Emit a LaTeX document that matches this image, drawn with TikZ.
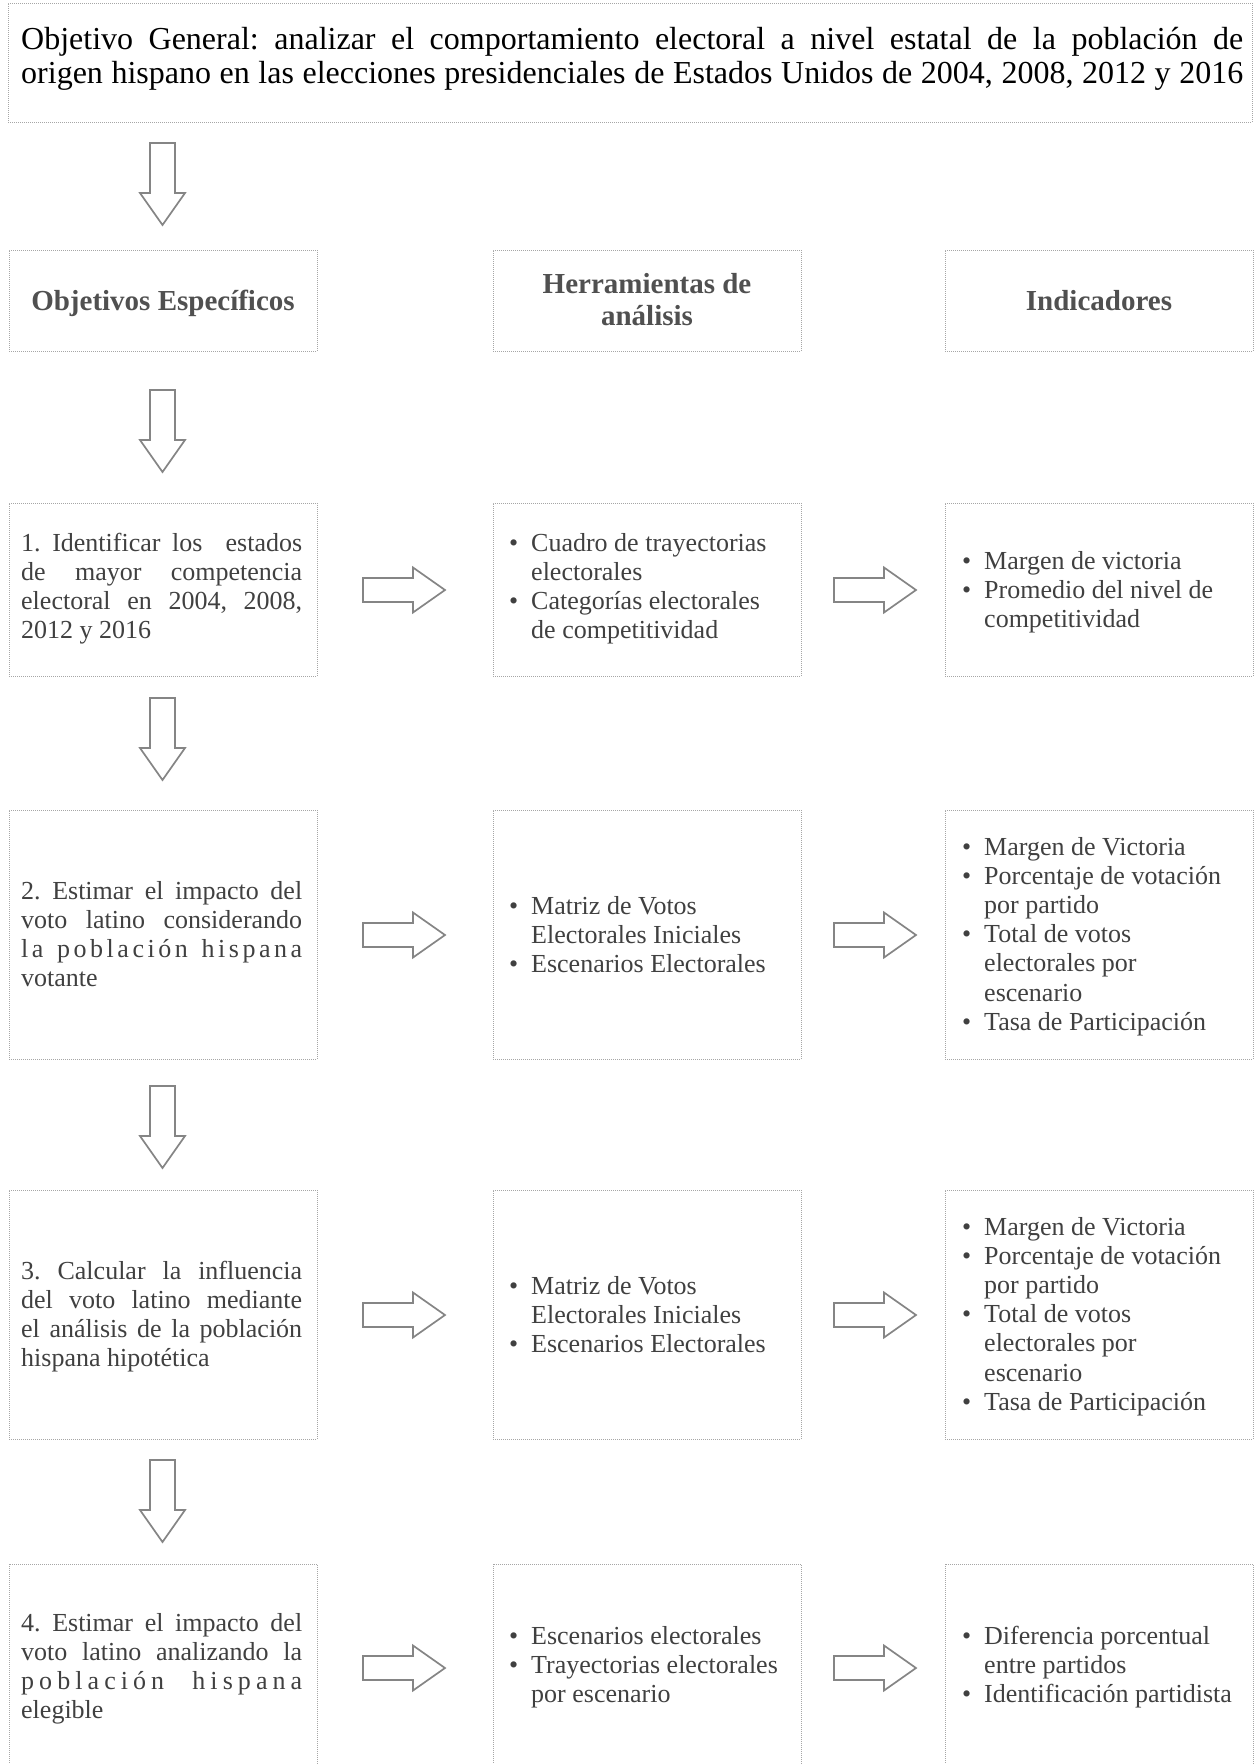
\documentclass[tikz,border=0pt]{standalone}
\usepackage{fontspec}
\setmainfont{Liberation Serif}
\frenchspacing
\definecolor{txt}{HTML}{404040}
\definecolor{hdr}{HTML}{505050}
\definecolor{bord}{HTML}{A6A6A6}
\definecolor{arrc}{HTML}{858585}
\tikzset{
  box/.style={draw=bord, line width=1pt, dash pattern=on 1pt off 1pt, anchor=north west, inner sep=0pt, outer sep=0pt},
  body/.style={anchor=base west, inner sep=0pt, text=txt, font=\fontsize{26}{29.2}\selectfont},
  head/.style={anchor=base, inner sep=0pt, text=hdr, font=\fontsize{29}{32.5}\selectfont\bfseries},
  blockarr/.style={draw=arrc, line width=1.7pt, fill=white, line join=miter},
}
\newcommand\bul{\leavevmode\llap{•\hspace{13pt}}}
\newcommand\DArr[3]{%
  \coordinate (#1) at (#2,#3);
  \draw[blockarr] (#2-12.5,#3) -- (#2+12.5,#3) -- (#2+12.5,#3+50) -- (#2+22.5,#3+50)
     -- (#2,#3+82) -- (#2-22.5,#3+50) -- (#2-12.5,#3+50) -- cycle;}
\newcommand\RArr[3]{%
  \coordinate (#1) at (#2,#3);
  \draw[blockarr] (#2,#3-12) -- (#2+50,#3-12) -- (#2+50,#3-22.5) -- (#2+82,#3)
     -- (#2+50,#3+22.5) -- (#2+50,#3+12) -- (#2,#3+12) -- cycle;}
\begin{document}
\begin{tikzpicture}[x=1pt,y=-1pt]
\useasboundingbox (0,0) rectangle (1258,1764);
\clip (0,0) rectangle (1258,1764);

% general objective
\node[box, minimum width=1244pt, minimum height=119pt] (gen) at (8,3) {};
\node[anchor=base west, inner sep=0pt, font=\fontsize{32}{34}\selectfont] (gentext) at (21,49)
  {\parbox[t]{1222pt}{\makebox[1222pt][s]{Objetivo General: analizar el comportamiento electoral a nivel estatal de la población de}\\
   \makebox[1222pt][s]{origen hispano en las elecciones presidenciales de Estados Unidos de 2004, 2008, 2012 y 2016}}};

% headers
\node[box, minimum width=308pt, minimum height=101pt] (h1) at (9,250) {};
\node[box, minimum width=308pt, minimum height=101pt] (h2) at (493,250) {};
\node[box, minimum width=308pt, minimum height=101pt] (h3) at (945,250) {};
\node[head] (h1t) at (163,310) {Objetivos Específicos};
\node[head] (h2t) at (647,293) {\parbox[t]{300pt}{\centering Herramientas de\\análisis}};
\node[head] (h3t) at (1099,310) {Indicadores};

% row boxes
\node[box, minimum width=308pt, minimum height=173pt] (a1) at (9,503) {};
\node[box, minimum width=308pt, minimum height=173pt] (b1) at (493,503) {};
\node[box, minimum width=308pt, minimum height=173pt] (c1) at (945,503) {};
\node[box, minimum width=308pt, minimum height=249pt] (a2) at (9,810) {};
\node[box, minimum width=308pt, minimum height=249pt] (b2) at (493,810) {};
\node[box, minimum width=308pt, minimum height=249pt] (c2) at (945,810) {};
\node[box, minimum width=308pt, minimum height=249pt] (a3) at (9,1190) {};
\node[box, minimum width=308pt, minimum height=249pt] (b3) at (493,1190) {};
\node[box, minimum width=308pt, minimum height=249pt] (c3) at (945,1190) {};
\node[box, minimum width=308pt, minimum height=208pt] (a4) at (9,1564) {};
\node[box, minimum width=308pt, minimum height=208pt] (b4) at (493,1564) {};
\node[box, minimum width=308pt, minimum height=208pt] (c4) at (945,1564) {};

% column 1 texts
\node[body] (a1t) at (21,551) {\parbox[t]{281pt}{%
  \makebox[281pt][s]{1. Identificar los\ \ estados}\\
  \makebox[281pt][s]{de mayor competencia}\\
  \makebox[281pt][s]{electoral en 2004, 2008,}\\
  2012 y 2016}};
\node[body] (a2t) at (21,899) {\parbox[t]{281pt}{%
  \makebox[281pt][s]{2. Estimar el impacto del}\\
  \makebox[281pt][s]{voto latino considerando}\\
  \makebox[281pt][s]{l\hfil a\hfil\ \hfil p\hfil o\hfil b\hfil l\hfil a\hfil c\hfil i\hfil ó\hfil n\hfil\ \hfil h\hfil i\hfil s\hfil p\hfil a\hfil n\hfil a}\\
  votante}};
\node[body] (a3t) at (21,1279) {\parbox[t]{281pt}{%
  \makebox[281pt][s]{3. Calcular la influencia}\\
  \makebox[281pt][s]{del voto latino mediante}\\
  \makebox[281pt][s]{el análisis de la población}\\
  hispana hipotética}};
\node[body] (a4t) at (21,1631) {\parbox[t]{281pt}{%
  \makebox[281pt][s]{4. Estimar el impacto del}\\
  \makebox[281pt][s]{voto latino analizando la}\\
  \makebox[281pt][s]{p\hfil o\hfil b\hfil l\hfil a\hfil c\hfil i\hfil ó\hfil n\hfil\ \hfil\ \hfil h\hfil i\hfil s\hfil p\hfil a\hfil n\hfil a}\\
  elegible}};

% column 2 texts
\node[body] (b1t) at (531,551) {\parbox[t]{265pt}{\raggedright
  \bul Cuadro de trayectorias\\ electorales\\ \bul Categorías electorales\\ de competitividad}};
\node[body] (b2t) at (531,914) {\parbox[t]{265pt}{\raggedright
  \bul Matriz de Votos\\ Electorales Iniciales\\ \bul Escenarios Electorales}};
\node[body] (b3t) at (531,1294) {\parbox[t]{265pt}{\raggedright
  \bul Matriz de Votos\\ Electorales Iniciales\\ \bul Escenarios Electorales}};
\node[body] (b4t) at (531,1644) {\parbox[t]{265pt}{\raggedright
  \bul Escenarios electorales\\ \bul Trayectorias electorales\\ por escenario}};

% column 3 texts
\node[body] (c1t) at (984,569) {\parbox[t]{265pt}{\raggedright
  \bul Margen de victoria\\ \bul Promedio del nivel de\\ competitividad}};
\node[body] (c2t) at (984,855) {\parbox[t]{265pt}{\raggedright
  \bul Margen de Victoria\\ \bul Porcentaje de votación\\ por partido\\ \bul Total de votos\\ electorales por\\ escenario\\ \bul Tasa de Participación}};
\node[body] (c3t) at (984,1235) {\parbox[t]{265pt}{\raggedright
  \bul Margen de Victoria\\ \bul Porcentaje de votación\\ por partido\\ \bul Total de votos\\ electorales por\\ escenario\\ \bul Tasa de Participación}};
\node[body] (c4t) at (984,1644) {\parbox[t]{265pt}{\raggedright
  \bul Diferencia porcentual\\ entre partidos\\ \bul Identificación partidista}};

% down arrows
\DArr{d0}{162.5}{143}
\DArr{d1}{162.5}{390}
\DArr{d2}{162.5}{698}
\DArr{d3}{162.5}{1086}
\DArr{d4}{162.5}{1460}

% right arrows
\RArr{ra1}{363}{590}
\RArr{rb1}{834}{590}
\RArr{ra2}{363}{935}
\RArr{rb2}{834}{935}
\RArr{ra3}{363}{1315}
\RArr{rb3}{834}{1315}
\RArr{ra4}{363}{1668}
\RArr{rb4}{834}{1668}
\end{tikzpicture}
\end{document}
